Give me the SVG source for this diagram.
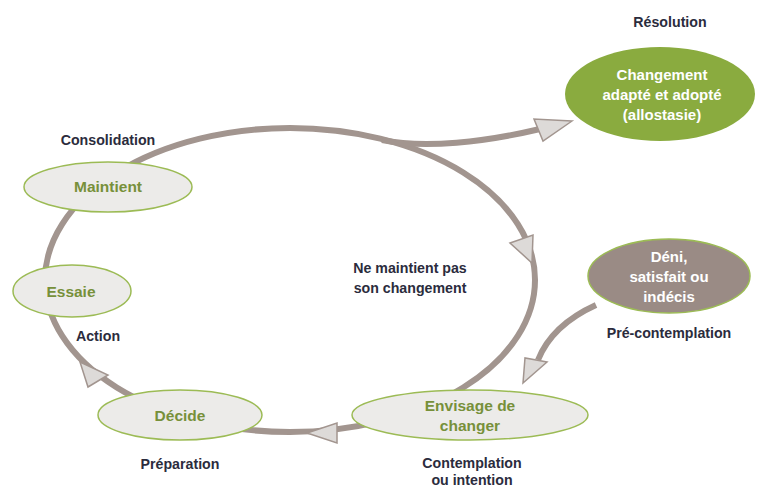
<svg xmlns="http://www.w3.org/2000/svg" width="760" height="489" viewBox="0 0 760 489">
<style>
.line{fill:none;stroke:#a2958f;stroke-width:6}
.ah{fill:#dddad8;stroke:#a2958f;stroke-width:1.5;stroke-linejoin:miter}
.node{fill:#ecebe9;stroke:#9cbb55;stroke-width:1.5}
.nt{font-family:"Liberation Sans",Arial,sans-serif;font-weight:bold;font-size:15.5px;fill:#77903a;text-anchor:middle}
.wt{font-family:"Liberation Sans",Arial,sans-serif;font-weight:bold;font-size:15px;fill:#ffffff;text-anchor:middle}
.lbl{font-family:"Liberation Sans",Arial,sans-serif;font-weight:bold;font-size:14.2px;fill:#2b2c3d;text-anchor:middle}
</style>
<rect width="760" height="489" fill="#ffffff"/>
<g id="connectors">
<ellipse class="line" cx="290" cy="280" rx="245" ry="152"/>
<path class="line" d="M 382,140 C 425,149 485,142 540,129"/>
<path class="line" d="M 596,305 Q 552,325 538,360"/>
<polygon class="ah" points="510,243 533,235 532,263"/>
<polygon class="ah" points="80,362 88,387 108,375"/>
<polygon class="ah" points="307,433 337,423 337,443"/>
<polygon class="ah" points="572,121 534,119 543,141"/>
<polygon class="ah" points="523,383 525,358 547,362"/>
</g>
<g id="resolution">
<ellipse cx="660" cy="94" rx="95" ry="47" fill="#8aab3f"/>
<text class="wt" x="662" y="80">Changement</text>
<text class="wt" x="662" y="100">adapté et adopté</text>
<text class="wt" x="662" y="120">(allostasie)</text>
</g>
<g id="deni">
<ellipse cx="669" cy="276" rx="81" ry="37" fill="#9a8b85" stroke="#9cbb55" stroke-width="1.5"/>
<text class="wt" x="669" y="262">Déni,</text>
<text class="wt" x="669" y="282">satisfait ou</text>
<text class="wt" x="669" y="302">indécis</text>
</g>
<g id="maintient">
<ellipse class="node" cx="108" cy="187" rx="84" ry="25"/>
<text class="nt" x="108" y="192">Maintient</text>
</g>
<g id="essaie">
<ellipse class="node" cx="72" cy="291" rx="59" ry="26"/>
<text class="nt" x="71" y="297">Essaie</text>
</g>
<g id="decide">
<ellipse class="node" cx="180" cy="415" rx="82" ry="25"/>
<text class="nt" x="180" y="421">Décide</text>
</g>
<g id="envisage">
<ellipse class="node" cx="470" cy="415" rx="118" ry="25"/>
<text class="nt" x="470" y="411">Envisage de</text>
<text class="nt" x="470" y="431">changer</text>
</g>
<g id="labels">
<text class="lbl" x="670" y="27">Résolution</text>
<text class="lbl" x="108" y="145">Consolidation</text>
<text class="lbl" x="98" y="341">Action</text>
<text class="lbl" x="180" y="469">Préparation</text>
<text class="lbl" x="472" y="468">Contemplation</text>
<text class="lbl" x="472" y="485">ou intention</text>
<text class="lbl" x="669" y="338">Pré-contemplation</text>
<text class="lbl" x="410" y="273">Ne maintient pas</text>
<text class="lbl" x="410" y="293">son changement</text>
</g>
</svg>
